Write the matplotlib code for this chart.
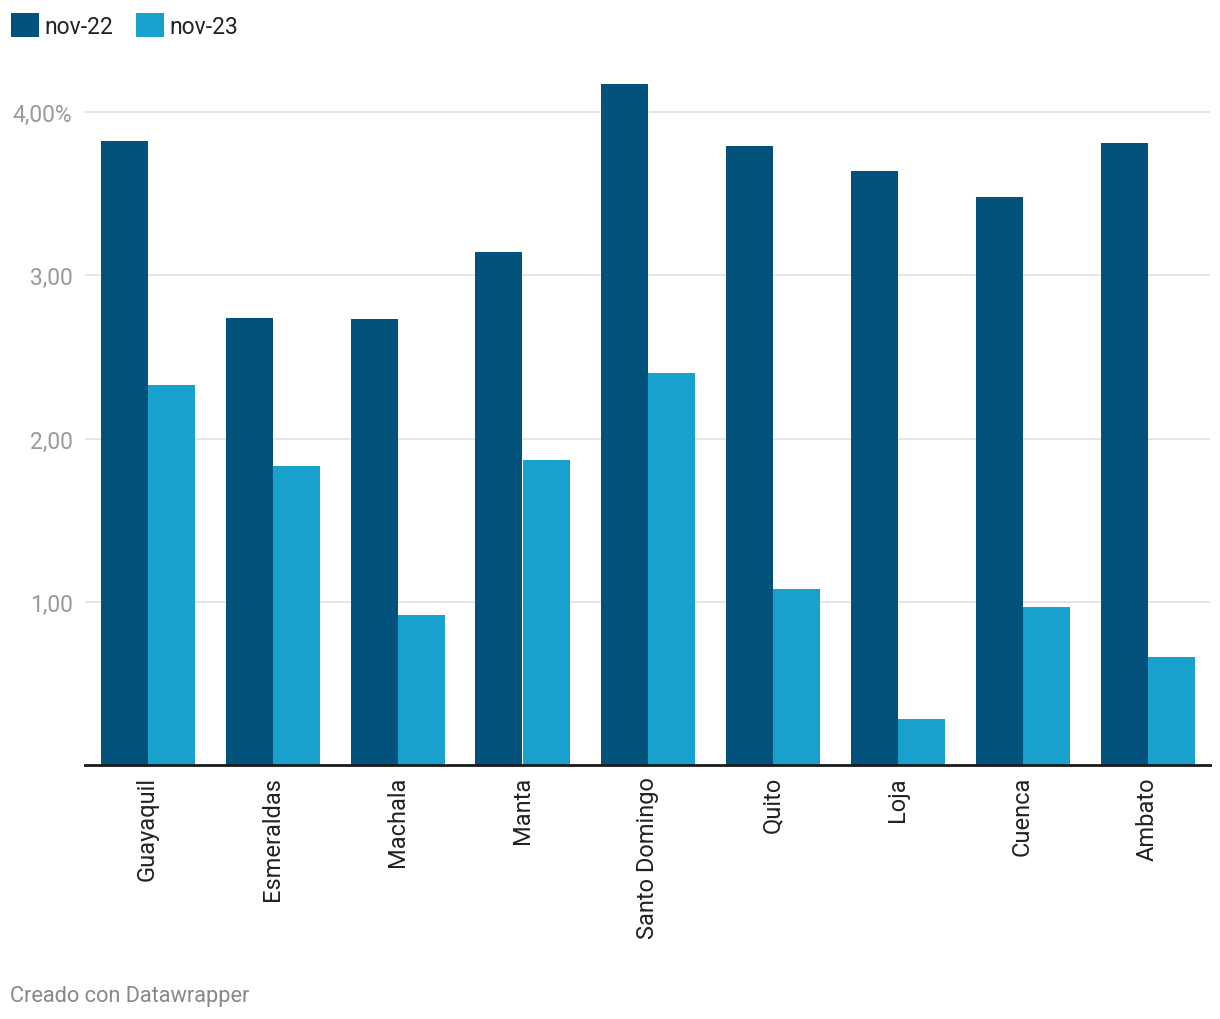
import numpy as np
import matplotlib
matplotlib.use("Agg")
import matplotlib.pyplot as plt
from matplotlib.ticker import FixedLocator, FixedFormatter

plt.rcParams['font.family'] = ['Roboto', 'DejaVu Sans']

# === Data ===
cities = ["Guayaquil", "Esmeraldas", "Machala", "Manta", "Santo Domingo",
          "Quito", "Loja", "Cuenca", "Ambato"]
nov22 = [3.82, 2.74, 2.73, 3.14, 4.17, 3.79, 3.64, 3.48, 3.81]
nov23 = [2.33, 1.83, 0.92, 1.87, 2.40, 1.08, 0.28, 0.97, 0.66]
series_names = ["nov-22", "nov-23"]
colors = ["#03527b", "#19a1cd"]
ytick_vals = [1, 2, 3, 4]
ytick_labels = ["1,00", "2,00", "3,00", "4,00%"]

W, H = 1220, 1020
fig = plt.figure(figsize=(W / 100, H / 100), dpi=100)
# axes: x 85..1210, y from 766 (zero) up to 61
ax = fig.add_axes([85 / W, 1 - 766 / H, 1125 / W, 705 / H])

x = np.arange(len(cities))
bw = 0.376
ax.bar(x - bw / 2, nov22, width=bw, color=colors[0], label=series_names[0], zorder=3)
ax.bar(x + bw / 2, nov23, width=bw, color=colors[1], label=series_names[1], zorder=3)

ax.set_xlim(-0.5, len(cities) - 0.5)
ax.set_ylim(0, 705 / 163.25)

ax.yaxis.set_major_locator(FixedLocator(ytick_vals))
ax.yaxis.set_major_formatter(FixedFormatter(ytick_labels))
ax.grid(axis='y', color='#e0e0e0', linewidth=1.2, zorder=0)
ax.tick_params(axis='y', length=0, pad=9, labelsize=16.5, labelcolor='#9a9a9a')

ax.set_xticks(x)
ax.set_xticklabels(cities, rotation=90, fontsize=17, color='#222222')
ax.tick_params(axis='x', length=0, pad=8)

for side in ['top', 'right', 'left']:
    ax.spines[side].set_visible(False)
ax.spines['bottom'].set_color('#1a1a1a')
ax.spines['bottom'].set_linewidth(2)
ax.spines['bottom'].set_zorder(4)

leg = fig.legend(loc='upper left', bbox_to_anchor=(2 / W, 1 - 5 / H), ncol=2,
                 frameon=False, fontsize=16.5, handlelength=1.2, handleheight=1.2,
                 handletextpad=0.25, columnspacing=1.0, borderaxespad=0)
for t in leg.get_texts():
    t.set_color('#222222')

fig.text(10 / W, 1 - 997 / H, "Creado con Datawrapper", fontsize=15.7,
         color='#888888', ha='left', va='center')

fig.savefig("out.png", dpi=100, facecolor='white')
